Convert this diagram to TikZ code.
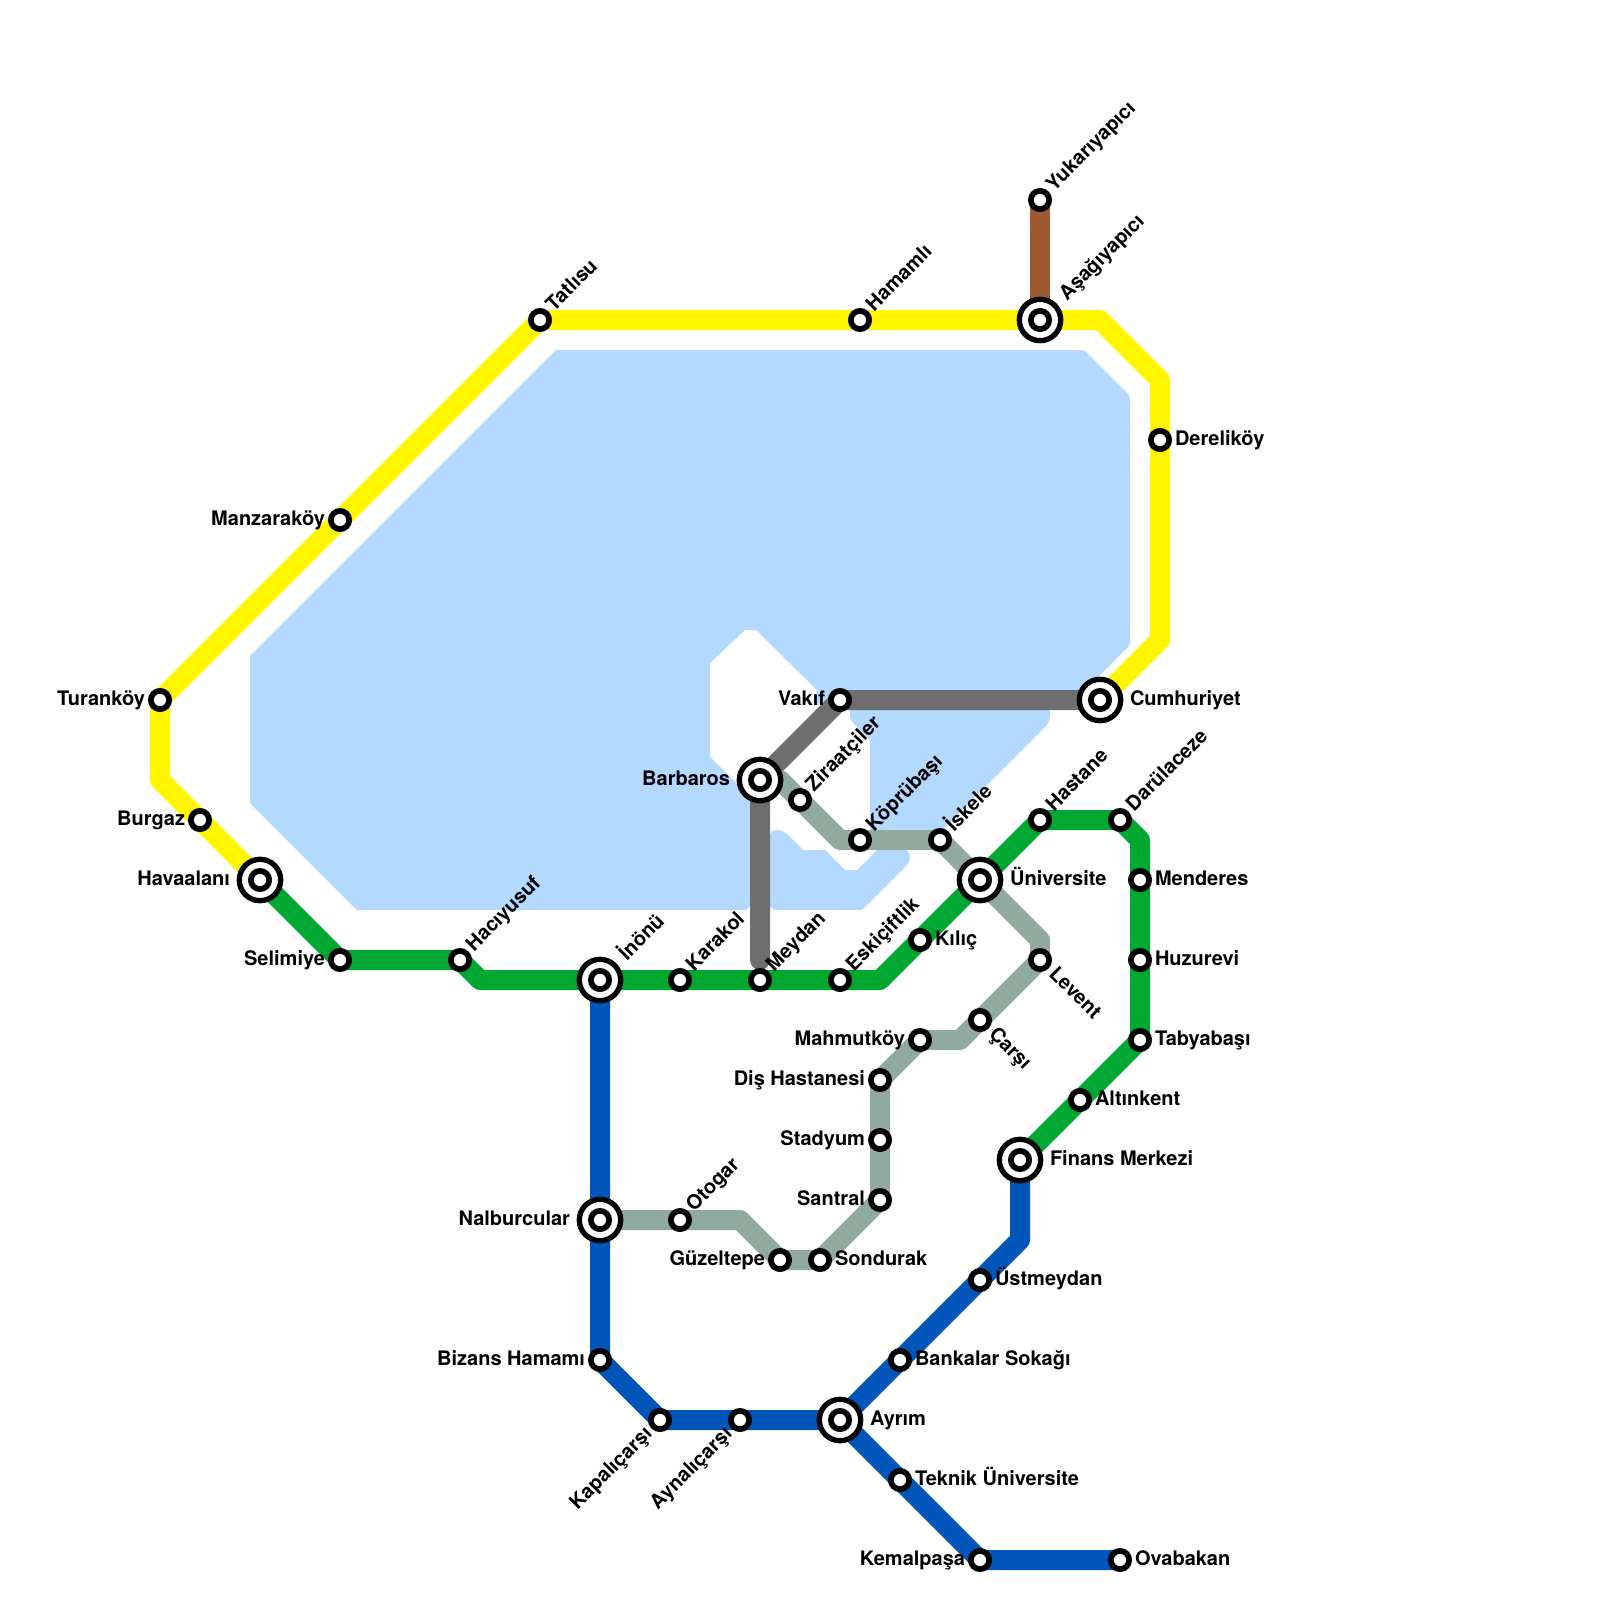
\documentclass[tikz,border=0pt]{standalone}
\usepackage{fontspec}
\setmainfont{TeX Gyre Heros}
\definecolor{wat}{HTML}{B3D9FF}
\definecolor{yel}{HTML}{FFF500}
\definecolor{gre}{HTML}{00A832}
\definecolor{blu}{HTML}{0055B8}
\definecolor{sag}{HTML}{91AAA0}
\definecolor{dgr}{HTML}{6E6E6E}
\definecolor{bro}{HTML}{9E5A2E}
\pgfdeclarelayer{waterlayer}
\pgfdeclarelayer{linelayer}
\pgfsetlayers{waterlayer,linelayer,main}
\tikzset{
  stop/.style={circle,draw=black,fill=white,line width=5.7pt,minimum size=18.3pt,inner sep=0pt,outer sep=0pt},
  ring/.style={circle,draw=black,fill=white,line width=5.3pt,minimum size=41.4pt,inner sep=0pt,outer sep=0pt},
  txt/.style={font=\fontsize{20}{22}\selectfont\bfseries,text=black,inner sep=0pt,outer sep=0pt},
  El/.style={txt,anchor=base west,xshift=15pt,yshift=-5pt},
  Eh/.style={txt,anchor=base west,xshift=30pt,yshift=-5pt},
  Wl/.style={txt,anchor=base east,xshift=-15pt,yshift=-5pt},
  Wh/.style={txt,anchor=base east,xshift=-30pt,yshift=-5pt},
  NEl/.style={txt,anchor=base west,xshift=14pt,yshift=8pt,rotate=45},
  NEh/.style={txt,anchor=base west,xshift=27pt,yshift=19pt,rotate=45},
  SEl/.style={txt,anchor=base west,xshift=8pt,yshift=-15pt,rotate=-45},
  SWl/.style={txt,anchor=base east,xshift=-7pt,yshift=-15pt,rotate=45},
  water/.style={fill=wat},
  route/.style={line width=20pt,line join=round,line cap=butt},
}
\newcommand\stn[5]{\node[stop] (#1) at (#2,#3) {}; \node[#4] (#1-label) at (#1.center) {#5};}
\newcommand\hub[5]{\node[ring] (#1-ring) at (#2,#3) {}; \node[stop] (#1) at (#2,#3) {}; \node[#4] (#1-label) at (#1.center) {#5};}
\begin{document}
\begin{tikzpicture}[x=1pt,y=-1pt]
\useasboundingbox (0,0) rectangle (1600,1600);
% stations
\stn{tatlisu}{540}{320}{NEl}{Tatlısu}
\stn{manzara}{340}{520}{Wl}{Manzaraköy}
\stn{turan}{160}{700}{Wl}{Turanköy}
\stn{burgaz}{200}{820}{Wl}{Burgaz}
\hub{hava}{260}{880}{Wh}{Havaalanı}
\stn{selimiye}{340}{960}{Wl}{Selimiye}
\stn{haciyusuf}{460}{960}{NEl}{Hacıyusuf}
\hub{inonu}{600}{980}{NEh}{İnönü}
\stn{karakol}{680}{980}{NEl}{Karakol}
\stn{meydan}{760}{980}{NEl}{Meydan}
\stn{eski}{840}{980}{NEl}{Eskiçiftlik}
\stn{kilic}{920}{940}{El}{Kılıç}
\hub{univ}{980}{880}{Eh}{Üniversite}
\stn{hastane}{1040}{820}{NEl}{Hastane}
\stn{darul}{1120}{820}{NEl}{Darülaceze}
\stn{menderes}{1140}{880}{El}{Menderes}
\stn{huzur}{1140}{960}{El}{Huzurevi}
\stn{tabya}{1140}{1040}{El}{Tabyabaşı}
\stn{altin}{1080}{1100}{El}{Altınkent}
\hub{finans}{1020}{1160}{Eh}{Finans Merkezi}
\stn{ustm}{980}{1280}{El}{Üstmeydan}
\stn{bankalar}{900}{1360}{El}{Bankalar Sokağı}
\hub{ayrim}{840}{1420}{Eh}{Ayrım}
\stn{teknik}{900}{1480}{El}{Teknik Üniversite}
\stn{kemal}{980}{1560}{Wl}{Kemalpaşa}
\stn{ova}{1120}{1560}{El}{Ovabakan}
\stn{aynali}{740}{1420}{SWl}{Aynalıçarşı}
\stn{kapali}{660}{1420}{SWl}{Kapalıçarşı}
\stn{bizans}{600}{1360}{Wl}{Bizans Hamamı}
\hub{nalbur}{600}{1220}{Wh}{Nalburcular}
\stn{otogar}{680}{1220}{NEl}{Otogar}
\stn{guzel}{780}{1260}{Wl}{Güzeltepe}
\stn{sondurak}{820}{1260}{El}{Sondurak}
\stn{santral}{880}{1200}{Wl}{Santral}
\stn{stadyum}{880}{1140}{Wl}{Stadyum}
\stn{dis}{880}{1080}{Wl}{Diş Hastanesi}
\stn{mahmut}{920}{1040}{Wl}{Mahmutköy}
\stn{carsi}{980}{1020}{SEl}{Çarşı}
\stn{levent}{1040}{960}{SEl}{Levent}
\stn{iskele}{940}{840}{NEl}{İskele}
\stn{kopru}{860}{840}{NEl}{Köprübaşı}
\stn{ziraat}{800}{800}{NEl}{Ziraatçiler}
\hub{barbaros}{760}{780}{Wh}{Barbaros}
\stn{vakif}{840}{700}{Wl}{Vakıf}
\hub{cumhur}{1100}{700}{Eh}{Cumhuriyet}
\stn{dereli}{1160}{440}{El}{Dereliköy}
\hub{asagi}{1040}{320}{NEh}{Aşağıyapıcı}
\stn{hamamli}{860}{320}{NEl}{Hamamlı}
\stn{yukari}{1040}{200}{NEl}{Yukarıyapıcı}
% bends
\coordinate (y1) at (1100,320);
\coordinate (y2) at (1160,380);
\coordinate (y3) at (1160,640);
\coordinate (y4) at (160,780);
\coordinate (g1) at (480,980);
\coordinate (g2) at (880,980);
\coordinate (g3) at (1120,820);
\coordinate (g4) at (1140,840);
\coordinate (b1) at (660,1420);
\coordinate (b2) at (1020,1240);
\coordinate (s1) at (780,780);
\coordinate (s2) at (840,840);
\coordinate (s3) at (1040,940);
\coordinate (s4) at (960,1040);
\coordinate (s5) at (740,1220);
\coordinate (m1) at (760,960);
\begin{pgfonlayer}{waterlayer}
\fill[water] (556,350) [rounded corners=2pt] -- (1084,350) -- (1130,396) -- (1130,645) [sharp corners] -- (1085,690) -- (1085,705) -- (817,705) -- (817,690) -- (756,630) -- (745,630) -- (710,663) -- (710,757) -- (750,797) [rounded corners=6pt] -- (750,910) [sharp corners] -- (357,910) -- (250,803) -- (250,656) -- cycle;
\fill[water] (850,700) -- (1050,700) [rounded corners=6pt] -- (1050,722) [sharp corners] -- (940,832) -- (940,845) -- (870,845) -- (870,740) [rounded corners=4pt] -- (850,720) [sharp corners] -- cycle;
\fill[water] (770,910) [rounded corners=6pt] -- (770,830) -- (783,830) [sharp corners] -- (803,850) -- (825,850) -- (845,870) -- (857,870) -- (877,850) [rounded corners=6pt] -- (910,850) -- (910,862) [rounded corners=2pt] -- (862,910) [rounded corners=6pt] -- (770,910) [sharp corners] -- cycle;
\end{pgfonlayer}
\begin{pgfonlayer}{linelayer}
\draw[route,bro] (yukari.center) -- (asagi.center);
\draw[route,dgr,line cap=round] (m1) -- (barbaros.center) -- (vakif.center) -- (cumhur.center);
\draw[route,sag] (barbaros.center) -- (s1) -- (s2) -- (iskele.center) -- (univ.center) -- (s3) -- (levent.center) -- (s4) -- (mahmut.center) -- (dis.center) -- (santral.center) -- (sondurak.center) -- (guzel.center) -- (s5) -- (nalbur.center);
\draw[route,yel] (cumhur.center) -- (y3) -- (y2) -- (y1) -- (tatlisu.center) -- (turan.center) -- (y4) -- (hava.center);
\draw[route,gre] (hava.center) -- (selimiye.center) -- (haciyusuf.center) -- (g1) -- (g2) -- (hastane.center) -- (g3) -- (g4) -- (tabya.center) -- (finans.center);
\draw[route,blu] (inonu.center) -- (bizans.center) -- (b1) -- (ayrim.center) -- (b2) -- (finans.center);
\draw[route,blu] (ayrim.center) -- (kemal.center) -- (ova.center);
\end{pgfonlayer}
\end{tikzpicture}
\end{document}
